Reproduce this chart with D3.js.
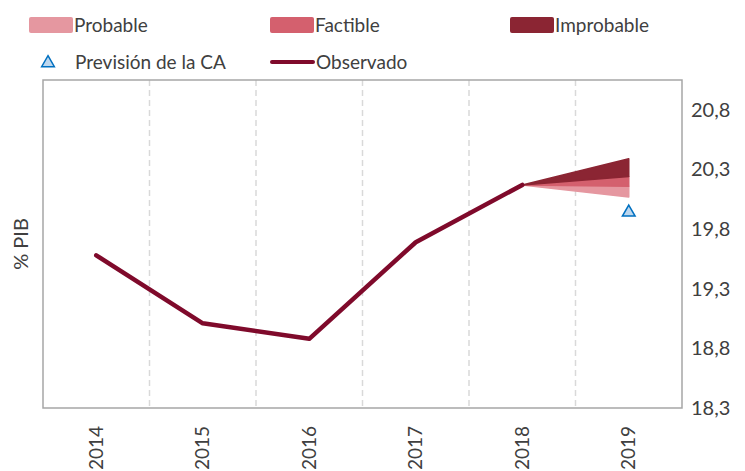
<!DOCTYPE html>
<html>
<head>
<meta charset="utf-8">
<script src="https://cdn.jsdelivr.net/npm/d3@7"></script>
<style>
  body { margin: 0; background: #fff; }
  svg text { font-family: Lato, "DejaVu Sans", sans-serif; fill: #404040; }
</style>
</head>
<body>
<svg id="chart" width="745" height="471"></svg>
<script>
// data
var years = ['2014', '2015', '2016', '2017', '2018', '2019'];
var observado = [19.58, 19.01, 18.88, 19.69, 20.17];
var fanStart = 20.17;            // 2018 value, where the fan opens
var probableLow = 20.07;         // 2019 bands
var probableHigh = 20.16;
var factibleHigh = 20.24;
var improbableHigh = 20.39;
var prevision = 19.94;           // Previsión de la CA, 2019
var yTicks = [18.3, 18.8, 19.3, 19.8, 20.3, 20.8];

var svg = d3.select('#chart');
var margin = {top: 80, right: 63, bottom: 63, left: 43},
    width = 745, height = 471;

var x = d3.scaleBand()
  .domain(years)
  .range([margin.left, width - margin.right])
  .padding(0);

var y = d3.scaleLinear()
  .domain([18.3, 21.05])
  .range([height - margin.bottom, margin.top]);

var cx = function(d){ return x(d) + x.bandwidth()/2; };

// dashed separators between years
svg.append('g')
  .selectAll('line')
  .data(years.slice(1))
  .enter().append('line')
  .attr('x1', function(d){ return x(d); })
  .attr('x2', function(d){ return x(d); })
  .attr('y1', margin.top)
  .attr('y2', height - margin.bottom)
  .attr('stroke', '#d9d9d9')
  .attr('stroke-width', 1.5)
  .attr('stroke-dasharray', '6,4');

// plot frame
svg.append('rect')
  .attr('x', margin.left)
  .attr('y', margin.top)
  .attr('width', width - margin.left - margin.right)
  .attr('height', height - margin.top - margin.bottom)
  .attr('fill', 'none')
  .attr('stroke', '#a6a6a6')
  .attr('stroke-width', 1.5);

// fan chart bands 2018 -> 2019
var bands = [
  {name: 'Probable', color: '#e597a0', lo: probableLow, hi: probableHigh},
  {name: 'Factible', color: '#d4606e', lo: probableHigh, hi: factibleHigh},
  {name: 'Improbable', color: '#8b2533', lo: factibleHigh, hi: improbableHigh}
];

var area = d3.area()
  .x(function(d){ return cx(d.year); })
  .y0(function(d){ return y(d.lo); })
  .y1(function(d){ return y(d.hi); });

bands.forEach(function(b){
  svg.append('path')
    .datum([
      {year: '2018', lo: fanStart, hi: fanStart},
      {year: '2019', lo: b.lo, hi: b.hi}
    ])
    .attr('fill', b.color)
    .attr('stroke', b.color)
    .attr('stroke-width', 1.5)
    .attr('stroke-linejoin', 'round')
    .attr('d', area);
});

// observed line
var line = d3.line()
  .x(function(d, i){ return cx(years[i]); })
  .y(function(d){ return y(d); });

svg.append('path')
  .datum(observado)
  .attr('fill', 'none')
  .attr('stroke', '#7f0a2b')
  .attr('stroke-width', 4.5)
  .attr('stroke-linejoin', 'round')
  .attr('stroke-linecap', 'round')
  .attr('d', line);

// previsión marker
var tri = d3.symbol().type(d3.symbolTriangle).size(70);
svg.append('path')
  .attr('d', tri)
  .attr('transform', 'translate(' + cx('2019') + ',' + y(prevision) + ')')
  .attr('fill', '#bdd7ee')
  .attr('stroke', '#0070c0')
  .attr('stroke-width', 1.5);

// right y axis
var yAxis = d3.axisRight(y)
  .tickValues(yTicks)
  .tickSize(0)
  .tickPadding(9)
  .tickFormat(function(d){ return d3.format('.1f')(d).replace('.', ','); });

var gy = svg.append('g')
  .attr('transform', 'translate(' + (width - margin.right) + ',0)')
  .call(yAxis);
gy.select('.domain').remove();
gy.selectAll('text').style('font-size', '20px');

// x axis labels, rotated
var xAxis = d3.axisBottom(x).tickSize(0).tickPadding(0);
var gx = svg.append('g')
  .attr('transform', 'translate(0,' + (height - margin.bottom) + ')')
  .call(xAxis);
gx.select('.domain').remove();
gx.selectAll('text')
  .style('font-size', '19px')
  .attr('text-anchor', 'end')
  .attr('dy', '0.35em')
  .attr('transform', 'translate(0,18) rotate(-90)')
  .attr('x', 0)
  .attr('y', 0);

// y axis title
svg.append('text')
  .attr('transform', 'translate(28,' + ((margin.top + height - margin.bottom)/2) + ') rotate(-90)')
  .attr('text-anchor', 'middle')
  .style('font-size', '20px')
  .text('% PIB');

// legend
var legend = svg.append('g');
var swatches = [
  {label: 'Probable', color: '#e597a0', x: 29, y: 25},
  {label: 'Factible', color: '#d4606e', x: 270, y: 25},
  {label: 'Improbable', color: '#8b2533', x: 510, y: 25}
];
swatches.forEach(function(s){
  legend.append('rect')
    .attr('x', s.x).attr('y', s.y - 8)
    .attr('width', 44).attr('height', 16)
    .attr('rx', 2)
    .attr('fill', s.color);
  legend.append('text')
    .attr('x', s.x + 45).attr('y', s.y)
    .attr('dy', '0.35em')
    .style('font-size', '19px')
    .text(s.label);
});

legend.append('path')
  .attr('d', tri)
  .attr('transform', 'translate(48,63)')
  .attr('fill', '#bdd7ee')
  .attr('stroke', '#0070c0')
  .attr('stroke-width', 1.5);
legend.append('text')
  .attr('x', 75).attr('y', 62)
  .attr('dy', '0.35em')
  .style('font-size', '19px')
  .text('Previsión de la CA');

legend.append('line')
  .attr('x1', 272).attr('x2', 313)
  .attr('y1', 62).attr('y2', 62)
  .attr('stroke', '#7f0a2b')
  .attr('stroke-width', 4)
  .attr('stroke-linecap', 'round');
legend.append('text')
  .attr('x', 316).attr('y', 62)
  .attr('dy', '0.35em')
  .style('font-size', '19px')
  .text('Observado');
</script>
</body>
</html>
